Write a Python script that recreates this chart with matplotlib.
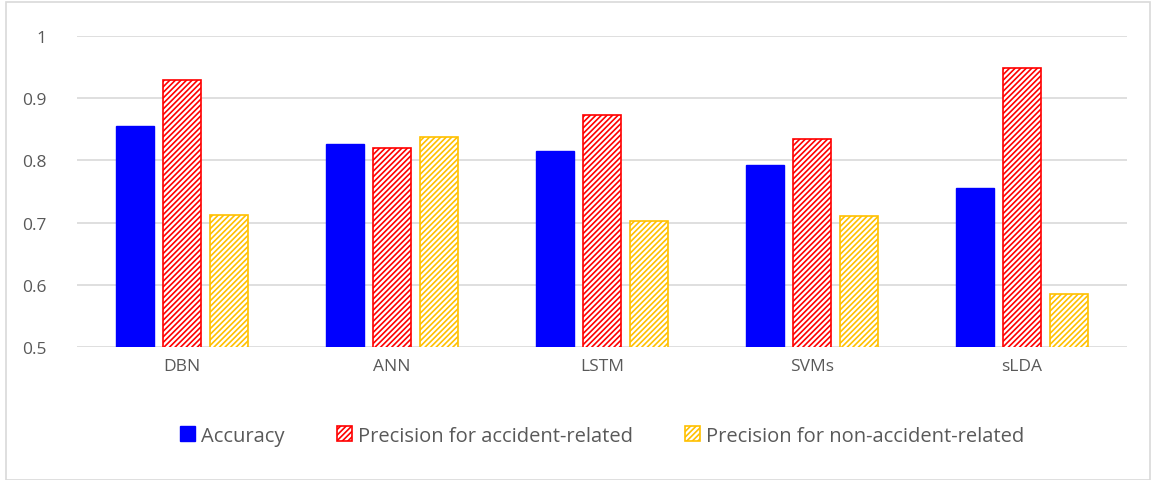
import numpy as np
import matplotlib
matplotlib.use("Agg")
import matplotlib.pyplot as plt
from matplotlib.patches import Rectangle

models = ["DBN", "ANN", "LSTM", "SVMs", "sLDA"]
accuracy = [0.855, 0.826, 0.815, 0.793, 0.756]
prec_acc = [0.929, 0.820, 0.873, 0.834, 0.949]
prec_non = [0.712, 0.838, 0.703, 0.711, 0.585]

plt.rcParams['font.family'] = ['Open Sans', 'DejaVu Sans']
plt.rcParams['hatch.linewidth'] = 1.2

fig = plt.figure(figsize=(11.56, 4.81), dpi=100)
ax = fig.add_axes([77/1156, 1 - 348/481, 1050/1156, 311/481])

x = np.arange(len(models))
w = 0.18
off = 0.225
ax.bar(x - off, accuracy, w, bottom=0, color="#0000ff", edgecolor="#0000ff",
       label="Accuracy", zorder=3)
ax.bar(x, prec_acc, w, color="white", edgecolor="#ff0000", hatch="//////",
       linewidth=1.2, label="Precision for accident-related", zorder=3)
ax.bar(x + off, prec_non, w, color="white", edgecolor="#ffc000", hatch="//////",
       linewidth=1.2, label="Precision for non-accident-related", zorder=3)

ax.set_ylim(0.5, 1.0)
ax.set_xlim(-0.5, 4.5)
ax.set_yticks([0.5, 0.6, 0.7, 0.8, 0.9, 1.0])
ax.set_yticklabels(["0.5", "0.6", "0.7", "0.8", "0.9", "1"])
ax.set_xticks(x)
ax.set_xticklabels(models)
ax.grid(axis="y", color="#d9d9d9", linewidth=1.2, zorder=0)
for s in ax.spines.values():
    s.set_visible(False)
ax.tick_params(length=0, colors="#595959", labelsize=12.5)
ax.tick_params(axis="y", pad=22)
ax.tick_params(axis="x", pad=8)

leg = ax.legend(loc="center", bbox_to_anchor=(0.5, -0.285), ncol=3,
                frameon=False, fontsize=14.5, handlelength=0.75, handleheight=0.75,
                columnspacing=2.6, handletextpad=0.3)
for t in leg.get_texts():
    t.set_color("#595959")

fig.patches.append(Rectangle((6/1156, 0), 1144/1156, 1 - 3/481, transform=fig.transFigure,
                             fill=False, edgecolor="#d9d9d9", linewidth=1.2))

fig.savefig("out.png", dpi=100)
